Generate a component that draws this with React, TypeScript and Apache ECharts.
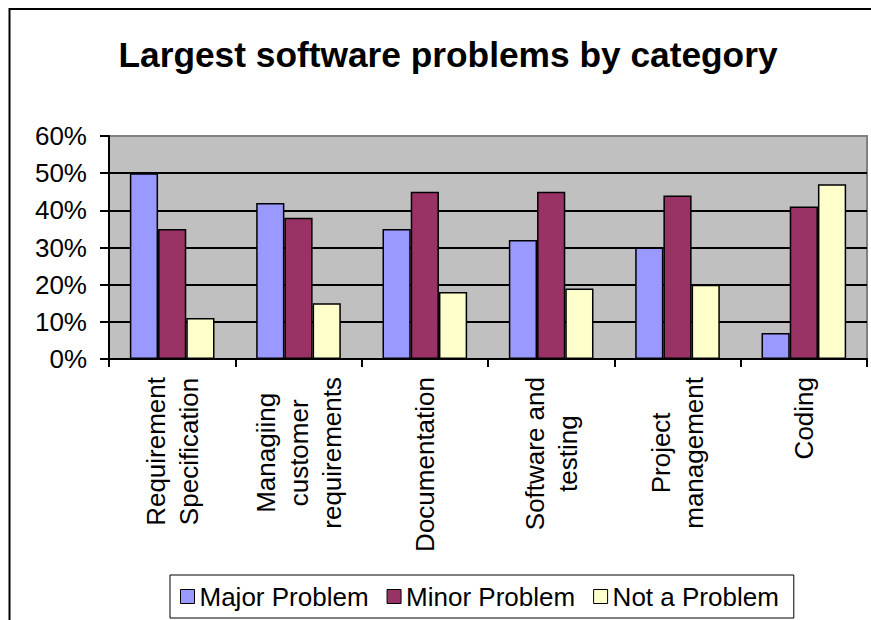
import React, { useEffect, useRef } from "react";
import * as echarts from "echarts";

const categories = [
  "Requirement\nSpecification",
  "Managiing\ncustomer\nrequirements",
  "Documentation",
  "Software and\ntesting",
  "Project\nmanagement",
  "Coding",
];
const seriesNames = ["Major Problem", "Minor Problem", "Not a Problem"];
const majorProblem = [50, 42, 35, 32, 30, 7];
const minorProblem = [35, 38, 45, 45, 44, 41];
const notAProblem = [11, 15, 18, 19, 20, 47];
const yTicks = { min: 0, max: 60, interval: 10 };

const FONT = "'Liberation Sans', Arial, sans-serif";
const LABEL_SIZE = 26;
const LINE_H = 33;
const LABEL_GAP = 18;

export default function App() {
  const ref = useRef<HTMLDivElement>(null);
  useEffect(() => {
    if (!ref.current) return;
    const chart = echarts.init(ref.current, undefined, { renderer: "svg" });
    const colors = ["#9999FF", "#993366", "#FFFFCC"];
    const values = [majorProblem, minorProblem, notAProblem];

    const ctx = document.createElement("canvas").getContext("2d");
    const measure = (s: string) => {
      if (ctx) {
        ctx.font = `${LABEL_SIZE}px 'Liberation Sans', Arial, sans-serif`;
        return ctx.measureText(s).width;
      }
      return s.length * LABEL_SIZE * 0.55;
    };
    const labelLines = categories.map((c) => c.split("\n"));
    const labelMaxW = labelLines.map((ls) => Math.max(...ls.map(measure)));

    chart.setOption({
      animation: false,
      backgroundColor: "#ffffff",
      textStyle: { fontFamily: FONT },
      title: {
        text: "Largest software problems by category",
        left: 443,
        textAlign: "center",
        top: 32,
        textStyle: { fontFamily: FONT, fontSize: 35.3, fontWeight: "bold", color: "#000" },
      },
      graphic: [
        {
          type: "rect",
          shape: { x: 9.5, y: 9, width: 900, height: 700 },
          style: { fill: "none", stroke: "#000", lineWidth: 2 },
          silent: true,
          z: 100,
        },
      ],
      tooltip: { show: false },
      legend: {
        data: seriesNames,
        left: 170,
        top: 575,
        orient: "horizontal",
        borderColor: "#000",
        borderWidth: 1,
        padding: [8, 15, 8, 10],
        itemGap: 18,
        itemWidth: 14,
        itemHeight: 14,
        icon: "rect",
        itemStyle: { borderColor: "#000", borderWidth: 1 },
        textStyle: { fontFamily: FONT, fontSize: LABEL_SIZE, color: "#000", lineHeight: 27 },
      },
      grid: {
        left: 109,
        right: 4,
        top: 136,
        bottom: 261,
        show: true,
        backgroundColor: "#C0C0C0",
        borderColor: "#808080",
        borderWidth: 2,
        containLabel: false,
      },
      xAxis: {
        type: "category",
        data: categories,
        boundaryGap: true,
        axisLine: { show: true, lineStyle: { color: "#000", width: 2 } },
        axisTick: { show: true, length: 8, lineStyle: { color: "#000", width: 2 } },
        axisLabel: { show: false },
        splitLine: { show: false },
      },
      yAxis: {
        type: "value",
        min: yTicks.min,
        max: yTicks.max,
        interval: yTicks.interval,
        axisLine: { show: true, lineStyle: { color: "#000", width: 2 } },
        axisTick: { show: true, length: 9, inside: false, lineStyle: { color: "#000", width: 2 } },
        axisLabel: {
          formatter: "{value}%",
          margin: 22,
          fontFamily: FONT,
          fontSize: LABEL_SIZE,
          color: "#000",
        },
        splitLine: {
          show: true,
          lineStyle: {
            color: ["#000", "#000", "#000", "#000", "#000", "#000", "#808080"],
            width: 2,
          },
        },
      },
      series: [
        ...seriesNames.map((name, i) => ({
          name,
          type: "bar",
          data: values[i],
          barGap: "0%",
          barCategoryGap: "33%",
          itemStyle: { color: colors[i], borderColor: "#000", borderWidth: 1.5 },
        })),
        {
          name: "categoryLabels",
          type: "custom",
          silent: true,
          clip: false,
          z: 10,
          data: categories.map((_c, i) => [i, yTicks.min]),
          renderItem: (params: any, api: any) => {
            const idx = params.dataIndex;
            const pt = api.coord([api.value(0), api.value(1)]);
            const lines = labelLines[idx];
            const cy = pt[1] + LABEL_GAP + labelMaxW[idx] / 2;
            return {
              type: "group",
              children: lines.map((l, j) => ({
                type: "text",
                x: pt[0] + (j - (lines.length - 1) / 2) * LINE_H,
                y: cy,
                rotation: Math.PI / 2,
                style: {
                  text: l,
                  fontFamily: FONT,
                  fontSize: LABEL_SIZE,
                  fill: "#000",
                  align: "center",
                  verticalAlign: "middle",
                },
              })),
            };
          },
        },
      ],
    });
    return () => chart.dispose();
  }, []);
  return (
    <div
      ref={ref}
      style={{ position: "absolute", left: 0, top: 0, width: 871, height: 620 }}
    />
  );
}
